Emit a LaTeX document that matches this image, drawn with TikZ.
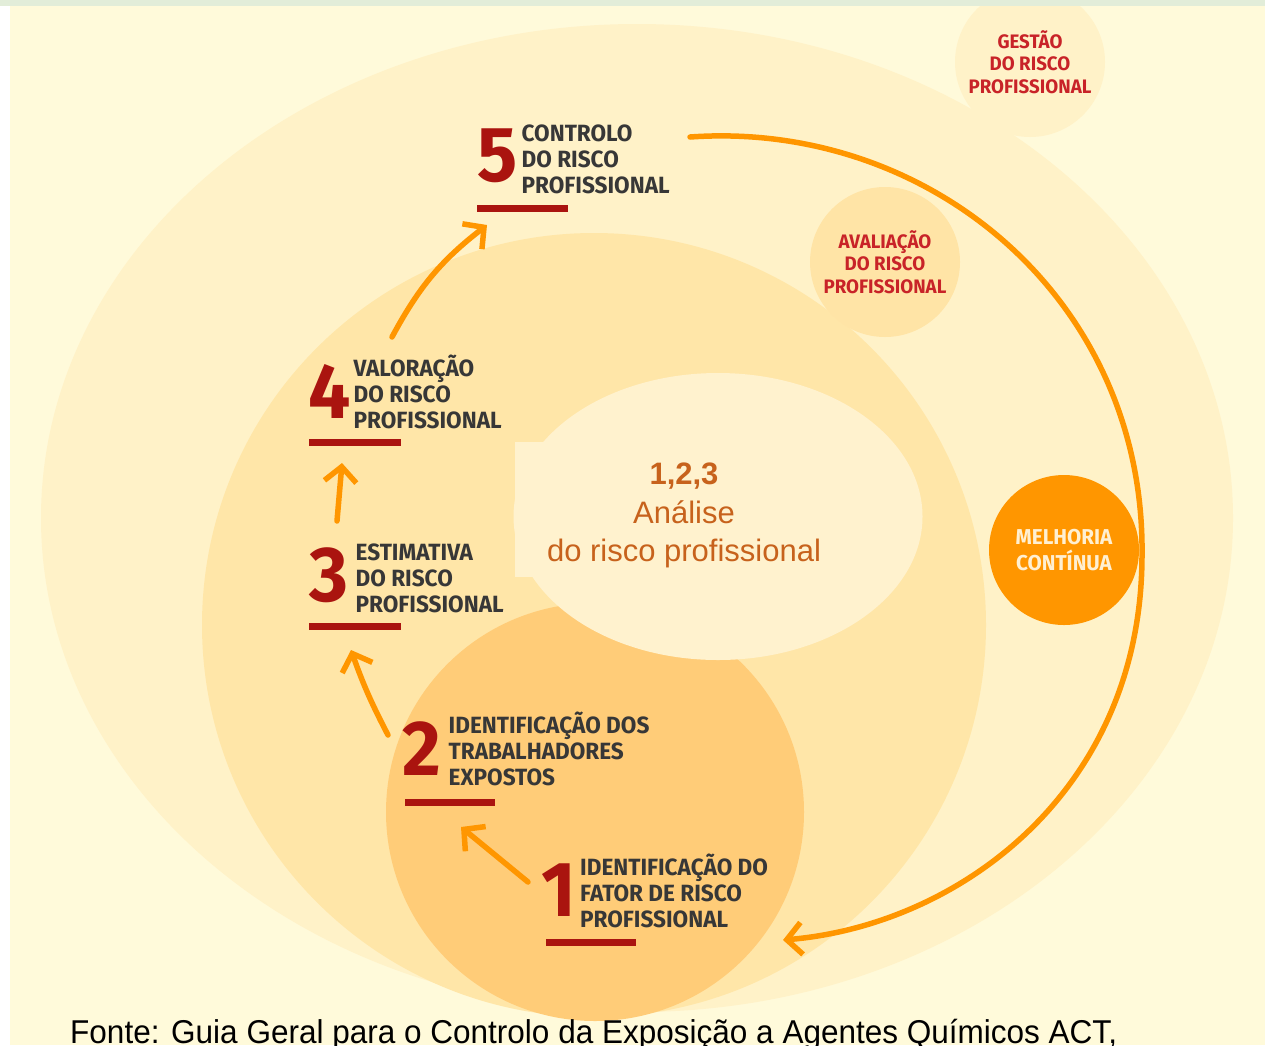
\documentclass[tikz,border=0pt]{standalone}
\usepackage{fontspec}
\setmainfont{Liberation Sans}
\newfontfamily\dinfont[FakeStretch=0.96]{Fira Sans}
\newfontfamily\notefont[FakeStretch=0.955]{Liberation Sans}
\usetikzlibrary{arrows.meta}
\usetikzlibrary{positioning}

\definecolor{paper}{RGB}{255,250,218}
\definecolor{topband}{RGB}{226,237,217}
\definecolor{ringout}{RGB}{255,242,200}
\definecolor{ringmid}{RGB}{255,230,168}
\definecolor{ringin}{RGB}{255,204,120}
\definecolor{core}{RGB}{255,242,206}
\definecolor{evalfill}{RGB}{255,228,166}
\definecolor{flame}{RGB}{255,150,0}
\definecolor{darkred}{RGB}{170,20,15}
\definecolor{bubblered}{RGB}{200,35,40}
\definecolor{stepgray}{RGB}{55,55,55}
\definecolor{coretext}{RGB}{199,98,28}
\definecolor{creamtext}{RGB}{255,240,210}

\newcommand\capstrut{\rule{0pt}{24pt}}

\tikzset{
    stepnum/.style = {anchor=base west, inner sep=0pt, text=darkred, font=\dinfont\bfseries\fontsize{78}{78}\selectfont},
    steplabel/.style = {anchor=north west, inner sep=0pt, align=left, text=stepgray, font=\dinfont\bfseries\fontsize{23.5}{26}\selectfont},
    stepbar/.style = {draw=darkred, line width=7pt},
    bubble/.style = {circle, inner sep=0pt, minimum size=150pt, align=center, text=bubblered, font=\dinfont\bfseries\fontsize{19.5}{22.5}\selectfont},
    flow/.style = {draw=flame, line width=5.5pt, line cap=round, -{Straight Barb[length=15pt,width=32pt]}},
}

\begin{document}
\begin{tikzpicture}[x=1pt, y=-1pt]
\useasboundingbox (0,0) rectangle (1265,1045);
\clip (0,0) rectangle (1265,1045);
%
% background and rings
\fill[paper] (0,0) rectangle (1265,1045);
\fill[ringout] (637,518) ellipse [x radius=596pt, y radius=494pt];
\node[bubble, fill=ringout] (gestao) at (1030,62) {GESTÃO\\DO RISCO\\PROFISSIONAL};
\fill[ringmid] (594,625) circle [radius=392pt];
\node[bubble, fill=evalfill] (avaliacao) at (885,262) {AVALIAÇÃO\\DO RISCO\\PROFISSIONAL};
\fill[ringin] (595,812) circle [radius=209pt];
\fill[core] (718,516.5) ellipse [x radius=204.5pt, y radius=143.5pt];
\fill[core] (515,442) rectangle (620,577);
\node[bubble, fill=flame, text=creamtext, font=\dinfont\bfseries\fontsize{21.5}{26}\selectfont] (melhoria) at (1064,550) {MELHORIA\\CONTÍNUA};
%
\node[align=center, inner sep=0pt, text=coretext, font=\fontsize{31}{38.5}\selectfont] (analise) at (684,515.7) {\textbf{1,2,3}\\Análise\\do risco profissional};
%
% steps
\node[stepnum] (n1) at (541,916) {1};
\node[steplabel] (l1) at (580,851) {\capstrut IDENTIFICAÇÃO DO\\FATOR DE RISCO\\PROFISSIONAL};
\draw[stepbar] (546,942.5) -- (636,942.5);

\node[stepnum] (n2) at (402,775) {2};
\node[steplabel] (l2) at (448.5,709) {\capstrut IDENTIFICAÇÃO DOS\\TRABALHADORES\\EXPOSTOS};
\draw[stepbar] (405,802) -- (495,802);

\node[stepnum] (n3) at (309,601) {3};
\node[steplabel] (l3) at (355.5,536) {\capstrut ESTIMATIVA\\DO RISCO\\PROFISSIONAL};
\draw[stepbar] (309,626.5) -- (401,626.5);

\node[stepnum] (n4) at (308,418) {4};
\node[steplabel] (l4) at (353.5,352) {\capstrut VALORAÇÃO\\DO RISCO\\PROFISSIONAL};
\draw[stepbar] (309,442.5) -- (401,442.5);

\node[stepnum] (n5) at (477,181) {5};
\node[steplabel] (l5) at (521.5,117.5) {\capstrut CONTROLO\\DO RISCO\\PROFISSIONAL};
\draw[stepbar] (477,208) -- (568,208);
%
% arrows between the steps
\coordinate (t12) at (528,882);
\coordinate (h12) at (461,827);
\coordinate (t23) at (388,735);
\coordinate (h23) at (351,650);
\coordinate (t34) at (337,521);
\coordinate (h34) at (342,463);
\coordinate (t45) at (392,337);
\coordinate (h45) at (487,225);
\coordinate (loopstart) at (690,137);
\coordinate (loopend) at (783,940);

\draw[flow] (t12) -- (h12);
\draw[flow] (t23) to[bend left=4] (h23);
\draw[flow] (t34) -- (h34);
\draw[flow] (t45) to[bend left=12] (h45);
\draw[flow] (loopstart) .. controls (930,120) and (1145,300) .. (1142,555)
    .. controls (1142,790) and (960,925) .. (loopend);
%
\node[anchor=base west, inner sep=0pt, font=\notefont\fontsize{33}{33}\selectfont] (source) at (70,1043) {Fonte: Guia Geral para o Controlo da Exposição a Agentes Químicos ACT,};
%
% page edges
\fill[topband] (0,0) rectangle (1265,6);
\fill[white] (0,6) rectangle (10,1045);
\end{tikzpicture}
\end{document}
